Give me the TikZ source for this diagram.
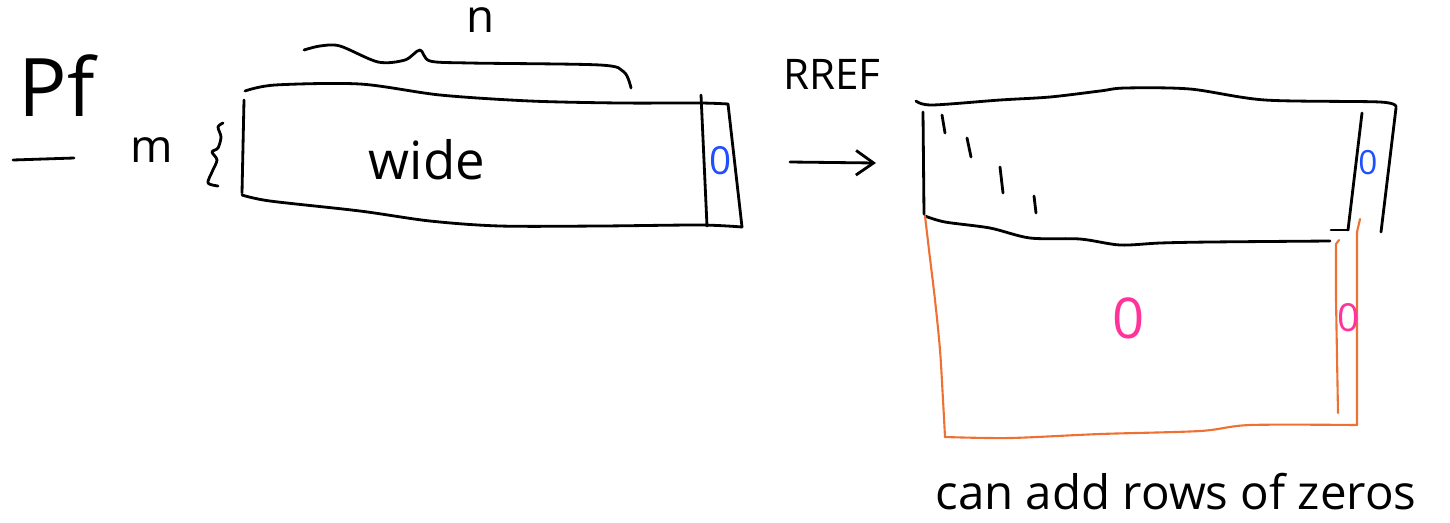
\documentclass[tikz,border=0pt]{standalone}
\usepackage{fontspec}
\setmainfont{Open Sans}
\usetikzlibrary{arrows.meta}
\definecolor{inkblue}{HTML}{1F4FFF}
\definecolor{inkpink}{HTML}{FF3399}
\definecolor{inkorange}{HTML}{EE7033}
\tikzset{
  ink/.style={line width=1.6pt, line cap=round, line join=round, black},
  orangeink/.style={line width=1.2pt, line cap=round, line join=round, inkorange},
  hand/.style={inner sep=0pt, font=\fontsize{#1}{#1}\selectfont},
}
\begin{document}
\begin{tikzpicture}[x=0.02cm,y=-0.02cm]
\useasboundingbox (0,0) rectangle (1450,522);
% Pf heading
\node[hand=46] (pf) at (57,86) {Pf};
\draw[ink] (13,160) -- (74,158);
% m with brace
\node[hand=26] (m) at (152,150) {m};
\draw[ink] plot[smooth] coordinates {(223,123) (218,127) (221,137) (218,148) (212,152) (217,160) (212,172) (208,183) (218,186)};
% left matrix
\draw[ink] plot[smooth] coordinates {(245,91) (275,85) (360,84) (440,95) (530,101) (620,103) (700,103) (728,104)};
\draw[ink] (244,100) -- (242,193);
\draw[ink] plot[smooth] coordinates {(242,195) (270,201) (360,211) (430,221) (500,226) (600,226) (700,225) (742,227)};
\draw[ink] (701,95) -- (707,226);
\draw[ink] (728,104) -- (742,227);
\node[hand=22, text=inkblue] (z1) at (721,161) {0};
\node[hand=30] (wide) at (427,160) {wide};
% top brace n
\draw[ink] plot[smooth] coordinates {(304,50) (320,46) (340,46) (378,62) (405,60) (420,50) (430,61) (470,63) (600,65) (624,72) (631,88)};
\node[hand=26] (n) at (481,20) {n};
% arrow
\coordinate (a1) at (790,162);
\coordinate (a2) at (876,163);
\draw[ink, -{Straight Barb[length=10pt,width=14pt,line width=1.6pt]}] (a1) -- (a2);
\node[hand=24] (rref) at (832,74) {RREF};
% right matrix
\draw[ink] plot[smooth] coordinates {(916,101) (932,105) (1000,100) (1050,97) (1100,91) (1125,88) (1190,89) (1265,100) (1380,102) (1396,107)};
\draw[ink] (923,112) -- (924,214);
\draw[ink] plot[smooth] coordinates {(925,216) (945,222) (990,228) (1030,238) (1080,239) (1120,245) (1160,243) (1210,242) (1330,241)};
\draw[ink] (1362,113) -- (1348,230);
\draw[ink] (1331,230) -- (1348,230);
\draw[ink] (1396,108) -- (1381,232);
% diagonal ones
\draw[ink] (942,115) -- (945,133);
\draw[ink] (967,138) -- (971,157);
\draw[ink] (1000,167) -- (1003,193);
\draw[ink] (1034,196) -- (1036,213);
\node[hand=19, text=inkblue] (z2) at (1368,163) {0};
% orange zero rows
\draw[orangeink] plot[smooth] coordinates {(925,216) (929,250) (935,300) (940,350) (943,400) (945,437)};
\draw[orangeink] plot[smooth] coordinates {(945,437) (1010,438) (1100,434) (1200,431) (1250,425) (1357,425)};
\draw[orangeink] (1357,425) -- (1357,232) -- (1360,219);
\draw[orangeink] (1338,413) -- (1336,300) -- (1336,244) -- (1339,240);
\node[hand=32, text=inkpink] (z3) at (1129,318) {0};
\node[hand=22, text=inkpink] (z4) at (1349,318) {0};
% note
\node[hand=27] (note) at (1176,492) {can add rows of zeros};
\end{tikzpicture}
\end{document}
